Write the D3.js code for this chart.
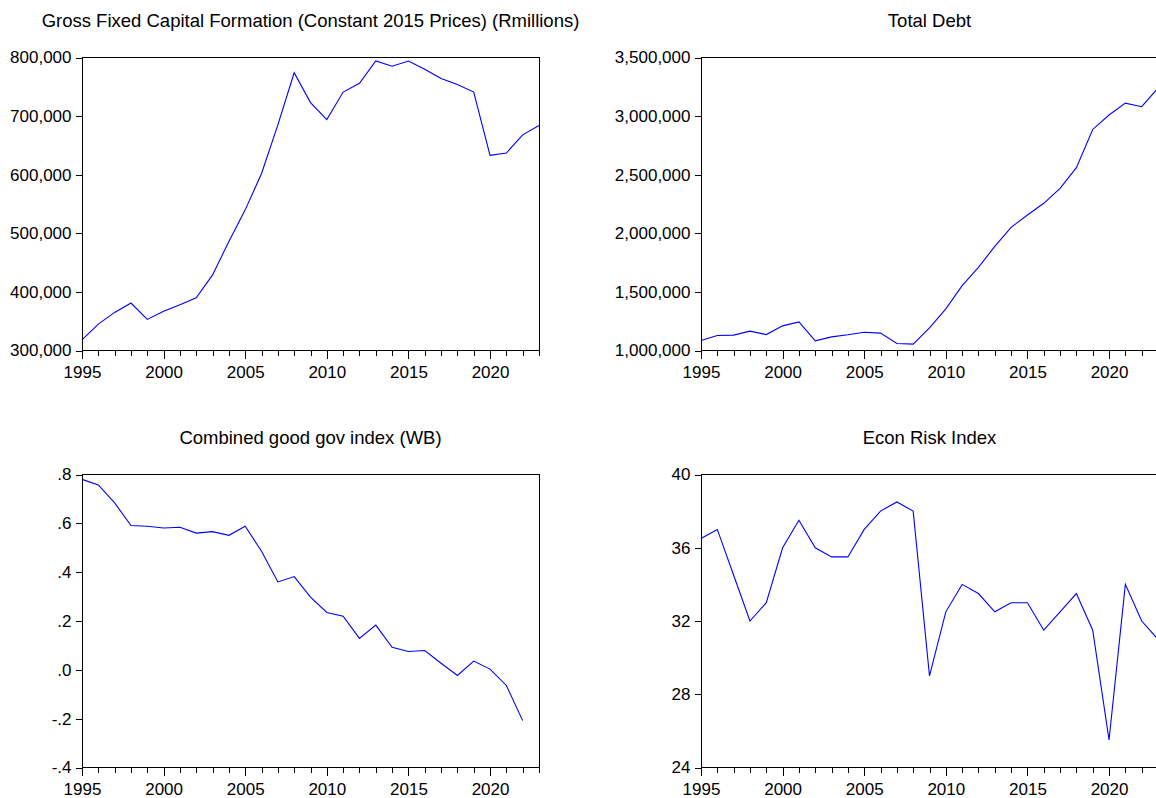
<!DOCTYPE html>
<html lang="en">
<head>
    <meta charset="UTF-8">
    <title>Four series panels</title>
    <script src="https://d3js.org/d3.v7.min.js"></script>
    <style>
        body { margin: 0; background: #fff; }
        svg { display: block; font-family: "Liberation Sans", Arial, sans-serif; }
        .frame { fill: none; stroke: #000; stroke-width: 1; shape-rendering: crispEdges; }
        .axis path { display: none; }
        .axis line { stroke: #000; shape-rendering: crispEdges; }
        .axis text { font-size: 17px; fill: #000; font-family: "Liberation Sans", Arial, sans-serif; }
        .series { fill: none; stroke: #0000ff; stroke-width: 1.1; }
        .title { font-size: 18.5px; fill: #000; text-anchor: middle; }
    </style>
</head>
<body>
<div id="chart"></div>
<script>
    // years on the x axis
    var years = d3.range(1995, 2024);

    // Gross Fixed Capital Formation (Rmillions), 1995-2023
    var gfcf = [318000, 345000, 365000, 381000, 353000, 367000, 378000, 390000, 429000, 486000,
        540000, 602000, 685000, 774000, 723000, 694000, 741000, 756000, 794000, 785000,
        794000, 780000, 764000, 754000, 741000, 633000, 637000, 668000, 684000];

    // Total Debt, 1995-2023
    var totalDebt = [1085000, 1128000, 1131000, 1165000, 1136000, 1210000, 1244000, 1082000, 1116000, 1134000,
        1156000, 1148000, 1060000, 1054000, 1193000, 1355000, 1554000, 1710000, 1889000, 2051000,
        2156000, 2256000, 2384000, 2560000, 2886000, 3009000, 3111000, 3080000, 3239000];

    // Combined good gov index (WB), 1995-2022
    var govIndex = [0.780, 0.757, 0.684, 0.591, 0.588, 0.581, 0.584, 0.560, 0.566, 0.551,
        0.588, 0.486, 0.360, 0.382, 0.298, 0.235, 0.220, 0.129, 0.183, 0.092,
        0.075, 0.079, 0.027, -0.023, 0.036, 0.003, -0.064, -0.208];

    // Econ Risk Index, 1995-2023
    var econRisk = [36.5, 37.0, 34.5, 32.0, 33.0, 36.0, 37.5, 36.0, 35.5, 35.5,
        37.0, 38.0, 38.5, 38.0, 29.0, 32.5, 34.0, 33.5, 32.5, 33.0,
        33.0, 31.5, 32.5, 33.5, 31.5, 25.5, 34.0, 32.0, 31.0];

    // tick values for each panel
    var yearTicks = [1995, 2000, 2005, 2010, 2015, 2020];
    var gfcfTicks = [300000, 400000, 500000, 600000, 700000, 800000];
    var debtTicks = [1000000, 1500000, 2000000, 2500000, 3000000, 3500000];
    var govTicks = [-0.4, -0.2, 0, 0.2, 0.4, 0.6, 0.8];
    var riskTicks = [24, 28, 32, 36, 40];

    var titles = [
        "Gross Fixed Capital Formation (Constant 2015 Prices) (Rmillions)",
        "Total Debt",
        "Combined good gov index (WB)",
        "Econ Risk Index"
    ];

    var width = 1156, height = 798;

    var svg = d3.select("#chart").append("svg")
        .attr("width", width)
        .attr("height", height);

    // plot box positions (left, right) per column and (top, bottom) per row
    var cols = [[82, 539], [701, 1158]];
    var rows = [[57.5, 350.5], [474.5, 767.5]];

    var commaFmt = d3.format(",");
    // EViews style: drop the leading zero, ".8", "-.2"
    function decFmt(v) {
        var s = v.toFixed(1);
        return s.replace(/^(-?)0\./, "$1.");
    }

    var panels = [
        { values: gfcf, ticks: gfcfTicks, fmt: commaFmt, col: 0, row: 0, title: titles[0] },
        { values: totalDebt, ticks: debtTicks, fmt: commaFmt, col: 1, row: 0, title: titles[1] },
        { values: govIndex, ticks: govTicks, fmt: decFmt, col: 0, row: 1, title: titles[2] },
        { values: econRisk, ticks: riskTicks, fmt: d3.format("d"), col: 1, row: 1, title: titles[3] }
    ];

    panels.forEach(function (p) {
        var left = cols[p.col][0], right = cols[p.col][1];
        var top = rows[p.row][0], bottom = rows[p.row][1];

        var x = d3.scaleLinear().domain([1995, 2023]).range([left, right]);
        var y = d3.scaleLinear()
            .domain([d3.min(p.ticks), d3.max(p.ticks)])
            .range([bottom, top]);

        var g = svg.append("g");

        // minor year ticks (no labels)
        g.append("g")
            .attr("class", "axis")
            .attr("transform", "translate(0," + bottom + ")")
            .call(d3.axisBottom(x).tickValues(years).tickSize(5).tickFormat(""));

        // major year ticks with labels
        g.append("g")
            .attr("class", "axis")
            .attr("transform", "translate(0," + bottom + ")")
            .call(d3.axisBottom(x).tickValues(yearTicks).tickSize(8).tickPadding(7).tickFormat(d3.format("d")));

        // value axis
        g.append("g")
            .attr("class", "axis")
            .attr("transform", "translate(" + left + ",0)")
            .call(d3.axisLeft(y).tickValues(p.ticks).tickSize(6).tickPadding(4.5).tickFormat(p.fmt));

        // series line
        var line = d3.line()
            .x(function (d, i) { return x(years[i]); })
            .y(function (d) { return y(d); });

        g.append("path")
            .datum(p.values)
            .attr("class", "series")
            .attr("d", line);

        // frame around the plot
        g.append("rect")
            .attr("class", "frame")
            .attr("x", left)
            .attr("y", top)
            .attr("width", right - left)
            .attr("height", bottom - top);

        // panel title
        g.append("text")
            .attr("class", "title")
            .attr("x", (left + right) / 2)
            .attr("y", top - 31)
            .text(p.title);
    });
</script>
</body>
</html>
